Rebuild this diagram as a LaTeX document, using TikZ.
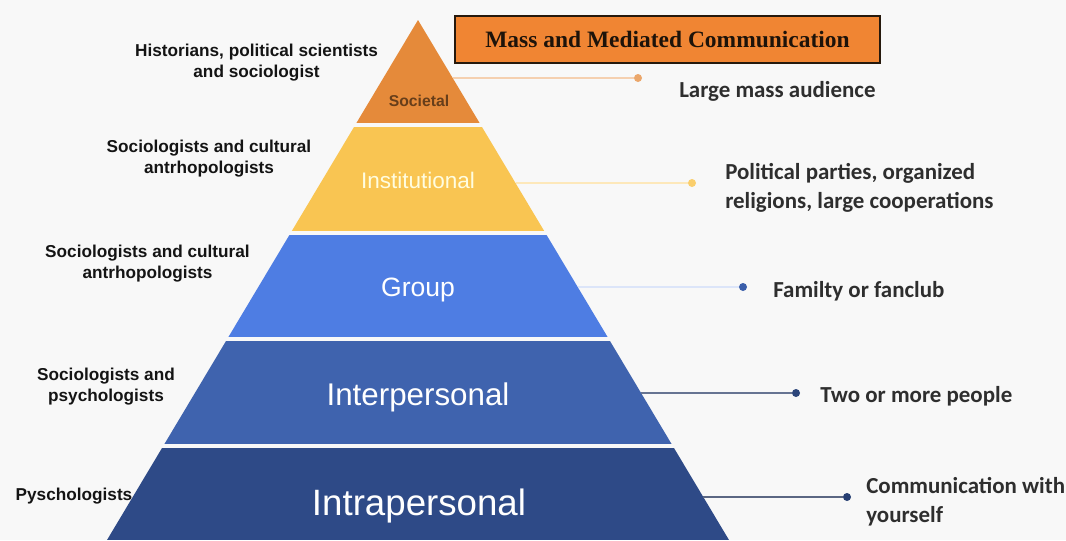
\documentclass[tikz,border=0pt]{standalone}
\usepackage{fontspec}
\setmainfont{Liberation Sans}
\newfontfamily\calibfont{Carlito}
\newfontfamily\titlefont{Liberation Serif}
\usetikzlibrary{positioning,calc}
\definecolor{bgcol}{HTML}{F8F8F8}
\definecolor{socialcol}{HTML}{E58A3A}
\definecolor{instcol}{HTML}{F9C552}
\definecolor{groupcol}{HTML}{4E7DE3}
\definecolor{intercol}{HTML}{3F63AE}
\definecolor{intracol}{HTML}{2E4A87}
\definecolor{titlecol}{HTML}{F08533}
\tikzset{
    whoslbl/.style={font=\fontsize{12.9}{15.75}\selectfont\bfseries,text=black!92,align=center,inner sep=0pt},
    whatlbl/.style={font=\calibfont\bfseries\fontsize{17.2}{21.5}\selectfont,text=black!82,align=left,inner sep=0pt},
    levellbl/.style={text=white,inner sep=0pt,anchor=base},
    enddot/.style={circle,fill=#1,minimum size=6pt,inner sep=0pt},
    link/.style={draw=#1,line width=1.4pt}
}

\begin{document}
\begin{tikzpicture}[x=0.75pt,y=-0.75pt]
    \fill[bgcol] (0,0) rectangle (1066,540);
    \useasboundingbox (0,0) rectangle (1066,540);

    % pyramid bands
    \coordinate (apex) at (418,20);
    \coordinate (leftfoot) at (107,540);
    \coordinate (rightfoot) at (729,540);
    \begin{scope}
        \clip (apex) -- (leftfoot) -- (rightfoot) -- cycle;
        \fill[socialcol] (0,0) rectangle (1066,123);
        \fill[instcol] (0,127) rectangle (1066,231);
        \fill[groupcol] (0,235) rectangle (1066,337);
        \fill[intercol] (0,341) rectangle (1066,444);
        \fill[intracol] (0,448) rectangle (1066,540);
    \end{scope}

    % level names
    \node[levellbl,text=socialcol!45!black,font=\fontsize{11.8}{14}\selectfont\bfseries] (societal) at (419,106) {Societal};
    \node[levellbl,text=yellow!12,font=\fontsize{16.9}{20}\selectfont] (institutional) at (418,188) {Institutional};
    \node[levellbl,font=\fontsize{19.9}{24}\selectfont] (group) at (418,296) {Group};
    \node[levellbl,font=\fontsize{23.5}{28}\selectfont] (interp) at (418,405) {Interpersonal};
    \node[levellbl,font=\fontsize{27.5}{32}\selectfont] (intrap) at (419,515) {Intrapersonal};

    % title box
    \node[draw=black!80!brown,line width=1.6pt,fill=titlecol,minimum width=318.75pt,minimum height=35.25pt,
          font=\titlefont\bfseries\fontsize{17.6}{20}\selectfont,text=black!85!brown] (title) at (667.5,39.5) {Mass and Mediated Communication};

    % who studies each level
    \node[whoslbl] (histlbl) at (256.5,63) {Historians, political scientists\\and sociologist};
    \node[whoslbl] (socantlbl) at (209,159) {Sociologists and cultural\\antrhopologists};
    \node[whoslbl] (socanttwolbl) at (147.5,264) {Sociologists and cultural\\antrhopologists};
    \node[whoslbl] (socpsylbl) at (106,387) {Sociologists and\\psychologists};
    \node[whoslbl,anchor=base] (psylbl) at (74,500) {Pyschologists};

    % connector ends
    \coordinate (esoc) at (452.7,78);
    \coordinate (einst) at (515.5,183);
    \coordinate (egroup) at (577.7,287);
    \coordinate (einter) at (641.1,393);
    \coordinate (eintra) at (703.2,497);
    \node[enddot=socialcol!75!white] (dsoc) at (638,78) {};
    \node[enddot=instcol!85!white] (dinst) at (692,183) {};
    \node[enddot=groupcol!75!black] (dgroup) at (743,287) {};
    \node[enddot=intercol!70!black] (dinter) at (796,393) {};
    \node[enddot=intracol!85!black] (dintra) at (847,497) {};
    \draw[link=socialcol!40!white] (esoc) -- (dsoc);
    \draw[link=instcol!40!white] (einst) -- (dinst);
    \draw[link=groupcol!20!white] (egroup) -- (dgroup);
    \draw[link=intercol!40!gray] (einter) -- (dinter);
    \draw[link=intracol!45!gray] (eintra) -- (dintra);

    % who communicates
    \node[whatlbl,anchor=base west] (tsoc) at (679,97) {Large mass audience};
    \node[whatlbl,anchor=west] (tinst) at (725,188) {Political parties, organized\\religions, large cooperations};
    \node[whatlbl,anchor=base west] (tgroup) at (773,297) {Familty or fanclub};
    \node[whatlbl,anchor=base west] (tinter) at (820,402) {Two or more people};
    \node[whatlbl,anchor=west] (tintra) at (866,502) {Communication with\\yourself};
\end{tikzpicture}
\end{document}
